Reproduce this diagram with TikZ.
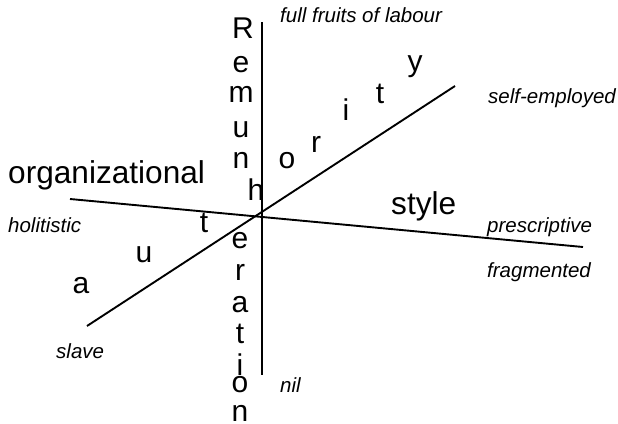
\documentclass[tikz,border=0pt]{standalone}
\usepackage{fontspec}
\setmainfont{Liberation Sans}
\begin{document}
\begin{tikzpicture}[x=1pt,y=-1pt,
  axis/.style={line width=1.9pt, black},
  big/.style={inner sep=0pt, anchor=base, font=\fontsize{30}{34}\selectfont},
  bigw/.style={inner sep=0pt, anchor=base west, font=\fontsize{31.6}{34}\selectfont},
  lab/.style={inner sep=0pt, anchor=base west, font=\fontsize{20.5}{24}\selectfont\itshape}]
\useasboundingbox (0,0) rectangle (618,423);
% axes
\coordinate (vtop) at (262,22);
\coordinate (vbot) at (262,375);
\coordinate (hl) at (70,199);
\coordinate (hr) at (583,247);
\coordinate (dl) at (87,326);
\coordinate (dr) at (455,86);
\draw[axis] (vtop) -- (vbot);
\draw[axis] (hl) -- (hr);
\draw[axis] (dl) -- (dr);
% Remuneration (vertical)
\node[big] (R1) at (243,38) {R};
\node[big] (R2) at (241,72) {e};
\node[big] (R3) at (241,102) {m};
\node[big] (R4) at (241,137) {u};
\node[big] (R5) at (241,168) {n};
\node[big] (R6) at (240,248) {e};
\node[big] (R7) at (240,280) {r};
\node[big] (R8) at (240,312) {a};
\node[big] (R9) at (240,343) {t};
\node[big] (R10) at (240,375) {i};
\node[big] (R11) at (240,392) {o};
\node[big] (R12) at (240,421) {n};
% authority (diagonal)
\node[big] (A1) at (81,293) {a};
\node[big] (A2) at (144,262) {u};
\node[big] (A3) at (204,232) {t};
\node[big] (A4) at (256,200) {h};
\node[big] (A5) at (287,168) {o};
\node[big] (A6) at (316,152) {r};
\node[big] (A7) at (346,120) {i};
\node[big] (A8) at (380,103) {t};
\node[big] (A9) at (415,71) {y};
% organizational style
\node[bigw] (org) at (8,183) {organizational};
\node[bigw] (sty) at (391,214) {style};
% pole labels
\node[lab] (ff) at (280,22) {full fruits of labour};
\node[lab] (se) at (488,103) {self-employed};
\node[lab] (ho) at (8,232) {holitistic};
\node[lab] (pr) at (487,232) {prescriptive};
\node[lab] (fr) at (487,277) {fragmented};
\node[lab] (sl) at (56,358) {slave};
\node[lab] (ni) at (280,392) {nil};
\end{tikzpicture}
\end{document}
